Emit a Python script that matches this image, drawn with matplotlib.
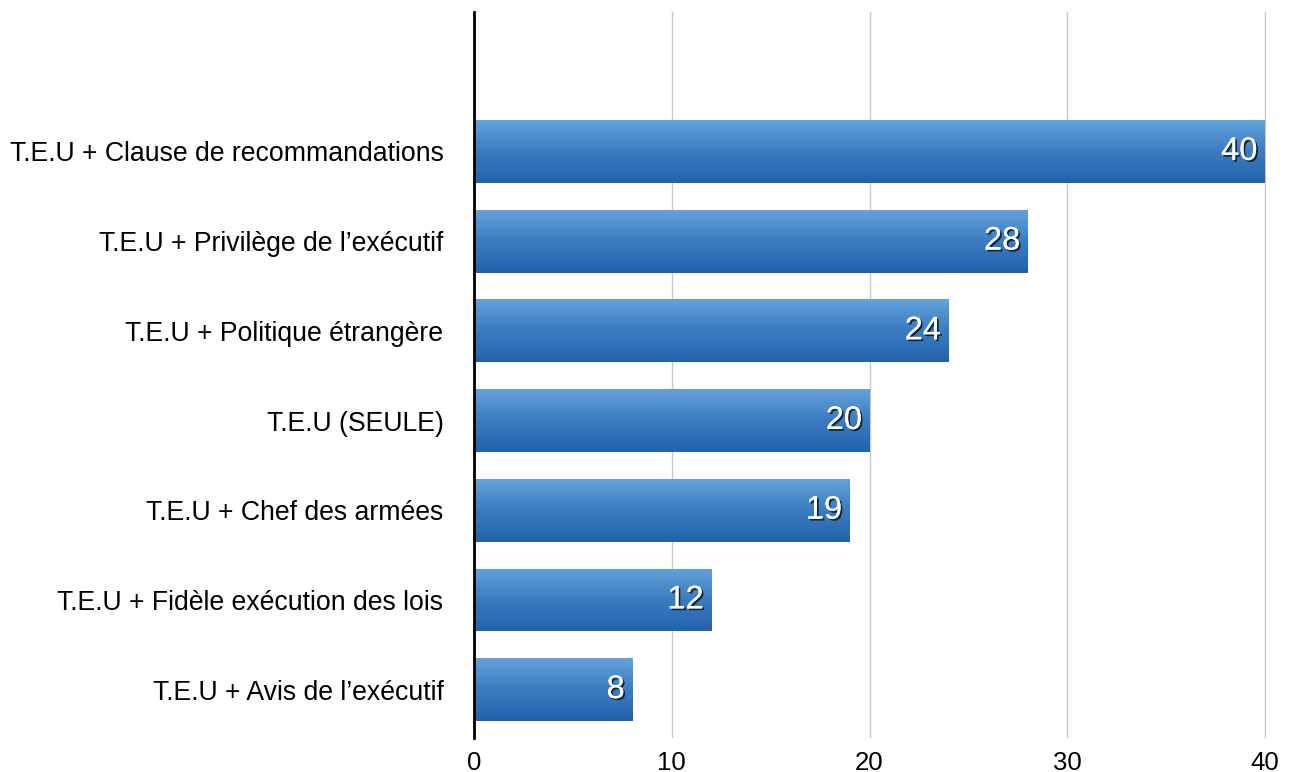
import numpy as np
import matplotlib
matplotlib.use("Agg")
import matplotlib.pyplot as plt
import matplotlib.patheffects as pe
from matplotlib.colors import LinearSegmentedColormap

plt.rcParams['font.family'] = ['Liberation Sans', 'DejaVu Sans']

categories = [
    "T.E.U + Avis de l\u2019ex\u00e9cutif",
    "T.E.U + Fid\u00e8le ex\u00e9cution des lois",
    "T.E.U + Chef des arm\u00e9es",
    "T.E.U (SEULE)",
    "T.E.U + Politique \u00e9trang\u00e8re",
    "T.E.U + Privil\u00e8ge de l\u2019ex\u00e9cutif",
    "T.E.U + Clause de recommandations",
]
values = [8, 12, 19, 20, 24, 28, 40]
xticks = [0, 10, 20, 30, 40]

fig = plt.figure(figsize=(12.93, 7.72), dpi=100)
ax = fig.add_axes([0.3666, 0.044, 0.6125, 0.9405])

ypos = np.arange(len(categories))
bar_h = 0.70

bars = ax.barh(ypos, values, height=bar_h, color='none', edgecolor='none', zorder=3)

# vertical blue gradient, light at the top, darker at the bottom
cmap = LinearSegmentedColormap.from_list("bluegrad", ["#2362ab", "#3a7cc2", "#64a2da"])
grad = np.linspace(0, 1, 256).reshape(-1, 1)
for b in bars:
    x0, y0 = b.get_x(), b.get_y()
    w, h = b.get_width(), b.get_height()
    im = ax.imshow(grad, cmap=cmap, aspect='auto', origin='lower',
                   extent=[x0, x0 + w, y0, y0 + h], zorder=3, interpolation='bicubic')
    im.set_clip_path(b)

shadow = [pe.withSimplePatchShadow(offset=(1.3, -1.3), shadow_rgbFace='black', alpha=0.7),
          pe.Normal()]
for y, v in zip(ypos, values):
    ax.text(v - 0.38, y, str(v), ha='right', va='center', color='white',
            fontsize=23.5, zorder=5, path_effects=shadow)

ax.set_xlim(0, 40.05)
ax.set_ylim(-0.54, 7.555)
ax.set_xticks(xticks)
ax.set_xticklabels([str(t) for t in xticks], fontsize=18.5)
ax.set_yticks(ypos)
ax.set_yticklabels(categories, fontsize=19.2)
ax.tick_params(axis='both', length=0)
ax.tick_params(axis='y', pad=22)
ax.tick_params(axis='x', pad=9)

ax.grid(axis='x', color='#c8c8c8', linewidth=1, zorder=0)
ax.set_axisbelow(True)
for s in ['top', 'right', 'bottom']:
    ax.spines[s].set_visible(False)
ax.spines['left'].set_linewidth(2)
ax.spines['left'].set_color('black')
ax.spines['left'].set_zorder(6)

fig.savefig("out.png", dpi=100, facecolor='white')
